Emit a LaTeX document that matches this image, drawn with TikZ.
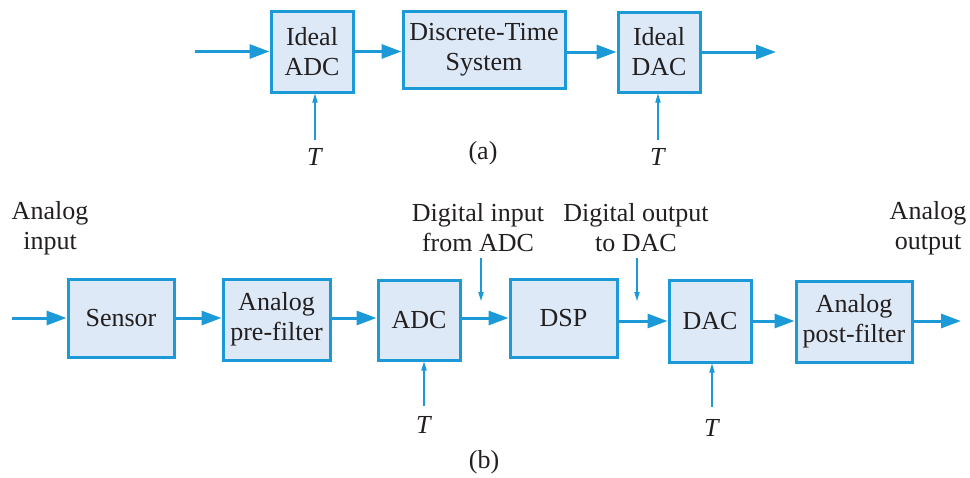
\documentclass[tikz,border=0pt]{standalone}
\usepackage{fontspec}
\setmainfont{Liberation Serif}
\usetikzlibrary{arrows.meta}
\definecolor{lineblue}{HTML}{1B9AD7}
\definecolor{boxfill}{HTML}{DDE9F6}
\definecolor{ink}{HTML}{231F20}
\begin{document}
\begin{tikzpicture}[x=0.5pt,y=-0.5pt,
  every node/.style={font=\fontsize{13}{15}\selectfont, text=ink},
  blk/.style={draw=lineblue, fill=boxfill, line width=1.5pt, inner sep=0pt, align=center},
  flow/.style={draw=lineblue, line width=1.5pt, -{Triangle[length=10pt,width=7pt]}},
  clk/.style={draw=lineblue, line width=0.6pt, -{Triangle[length=4.5pt,width=2.6pt]}},
  lbl/.style={align=center, inner sep=0pt}]
\useasboundingbox (0,0) rectangle (970,477);
% (a)
\node[blk, minimum width=41pt, minimum height=40.5pt] (iadc) at (312,51.5) {Ideal\\ADC};
\node[blk, minimum width=81pt, minimum height=38.5pt] (dts) at (484,49.5) {Discrete-Time\\System};
\node[blk, minimum width=41pt, minimum height=40pt] (idac) at (659,52) {Ideal\\DAC};
\coordinate (ain) at (195,51.5);
\coordinate (aout) at (776,52);
\draw[flow] (ain) -- (iadc.west);
\draw[flow] (iadc.east) -- (iadc.east -| dts.west);
\draw[flow] (dts.east |- idac.west) -- (idac.west);
\draw[flow] (idac.east) -- (aout);
\node (t1) at (315,157) {\textit{T}};
\node (t2) at (658,157) {\textit{T}};
\draw[clk] (315,140) coordinate (t1s) -- (t1s |- iadc.south);
\draw[clk] (658,140) coordinate (t2s) -- (t2s |- idac.south);
\node (capa) at (483,153) {(a)};
% (b)
\node[lbl] (lin) at (50,228) {Analog\\input};
\node[lbl] (ldin) at (478,228) {Digital input\\from ADC};
\node[lbl] (ldout) at (636,228) {Digital output\\to DAC};
\node[lbl] (lout) at (928,228) {Analog\\output};
\node[blk, minimum width=53pt, minimum height=39pt] (sensor) at (121,318) {Sensor};
\node[blk, minimum width=53.5pt, minimum height=40.5pt] (pre) at (276.5,319.5) {Analog\\pre-filter};
\node[blk, minimum width=41pt, minimum height=40pt] (adc) at (419,320) {ADC};
\node[blk, minimum width=53.5pt, minimum height=39pt] (dsp) at (563.5,318) {DSP};
\node[blk, minimum width=41pt, minimum height=41pt] (dac) at (710,321) {DAC};
\node[blk, minimum width=58pt, minimum height=40.5pt] (post) at (854,321.5) {Analog\\post-filter};
\coordinate (bin) at (12,318);
\coordinate (bout) at (961,321);
\draw[flow] (bin) -- (sensor.west);
\draw[flow] (sensor.east) -- (sensor.east -| pre.west);
\draw[flow] (pre.east |- sensor.east) -- (sensor.east -| adc.west);
\draw[flow] (adc.east |- dsp.west) -- (dsp.west);
\draw[flow] (dsp.east |- dac.west) -- (dac.west);
\draw[flow] (dac.east) -- (dac.east -| post.west);
\draw[flow] (post.east |- bout) -- (bout);
\coordinate (dinA) at (481,258);
\coordinate (dinB) at (481,301);
\coordinate (doutA) at (637,258);
\coordinate (doutB) at (637,301);
\draw[clk] (dinA) -- (dinB);
\draw[clk] (doutA) -- (doutB);
\node (t3) at (424,425) {\textit{T}};
\node (t4) at (712,428) {\textit{T}};
\draw[clk] (424,406) coordinate (t3s) -- (t3s |- adc.south);
\draw[clk] (712,407) coordinate (t4s) -- (t4s |- dac.south);
\node (capb) at (484,462) {(b)};
\end{tikzpicture}
\end{document}
